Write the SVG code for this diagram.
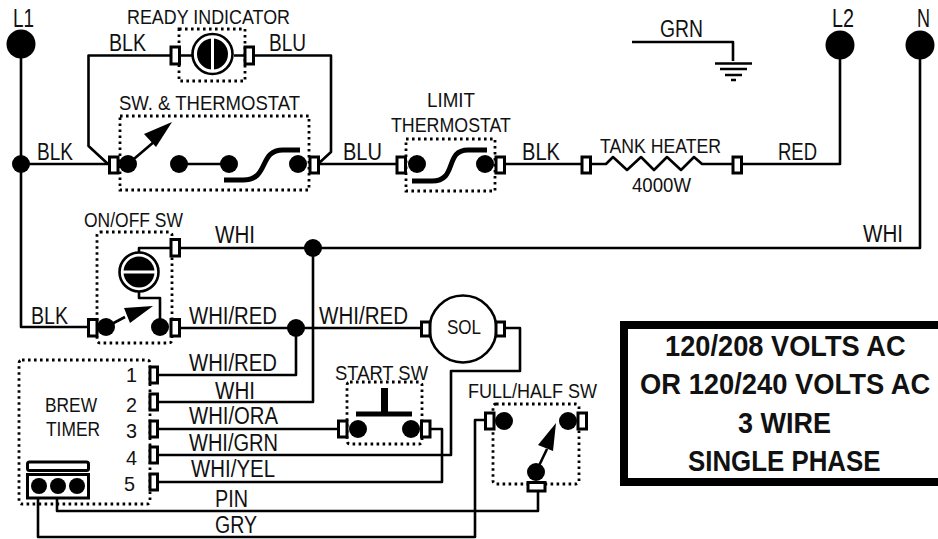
<svg xmlns="http://www.w3.org/2000/svg" width="938" height="539" viewBox="0 0 938 539">
<style>
text{font-family:"Liberation Sans",Arial,sans-serif;font-size:23px;fill:#111}
.s{font-size:21px}
.l{font-size:25px}
.b{font-weight:bold;font-size:30px;fill:#111}
.w{fill:none;stroke:#000;stroke-width:2.600;stroke-linejoin:round}
.t{fill:#fff;stroke:#000;stroke-width:3}
.d{fill:none;stroke:#000;stroke-width:2.800;stroke-dasharray:2.600 3.400}
.k{fill:none;stroke:#000;stroke-width:5}
circle{fill:#000}
</style>
<rect width="938" height="539" fill="#fff"/>
<g id="connectors">
<path class="w" d="M21 44V327H88M21 164H109"/>
<path class="w" d="M171 55.500H88.500V146L108 164M253 55.500H331V152L318 164"/>
<path class="w" d="M318 164H397M504 164H582M590 164H606L613 157L627 170L641 157L654 170L667 157L681 170L694 157L702 164H733M742 164H840V45"/>
<path class="w" d="M920 45V248H139V254"/>
<path class="w" d="M632 42H733V61"/>
<path class="w" d="M139 292V298H160V327M179 328H421M313 248V402H158M296 328V375H158"/>
<path class="w" d="M505 328H520V371H451V455H158M158 429H338M430 429H442V482H158"/>
<path class="w" d="M57 486V511H538V491M38 486V537H475V420H485"/>
<path class="w" d="M179 55.500H192M234 55.500H245"/>
</g>
<g id="l1"><circle cx="21" cy="44" r="14.500"/><circle cx="21" cy="164" r="9"/><text class="l" x="13" y="27" textLength="21" lengthAdjust="spacingAndGlyphs">L1</text></g>
<g id="l2"><circle cx="840" cy="45" r="14.500"/><text class="l" x="832" y="27" textLength="22" lengthAdjust="spacingAndGlyphs">L2</text></g>
<g id="n"><circle cx="920" cy="45" r="14.500"/><text class="l" x="917" y="27" textLength="13" lengthAdjust="spacingAndGlyphs">N</text></g>
<g id="ground">
<path d="M715 63.500H752M720 69H747M725 75H742M731 80H736" stroke="#000" stroke-width="2.600" fill="none"/>
<text x="660" y="37" textLength="43" lengthAdjust="spacingAndGlyphs">GRN</text>
</g>
<g id="ready-indicator">
<rect class="d" x="179" y="29" width="66" height="52"/>
<rect class="t" x="171" y="47" width="8.500" height="17"/><rect class="t" x="245" y="47" width="8.500" height="17"/>
<circle cx="212.500" cy="54" r="20" style="fill:#fff;stroke:#000;stroke-width:2.600"/><circle cx="212.500" cy="54" r="15.500"/>
<rect x="211" y="37" width="3" height="34" fill="#fff"/>
<text class="s" x="127" y="24" textLength="163" lengthAdjust="spacingAndGlyphs">READY INDICATOR</text>
<text x="109" y="51" textLength="37" lengthAdjust="spacingAndGlyphs">BLK</text>
<text x="269" y="51" textLength="37" lengthAdjust="spacingAndGlyphs">BLU</text>
</g>
<g id="sw-thermostat">
<rect class="d" x="120" y="116" width="189" height="74"/>
<rect class="t" x="109.500" y="157" width="8.500" height="16"/><rect class="t" x="310" y="157" width="8.500" height="16"/>
<circle cx="128" cy="164" r="9"/><circle cx="179" cy="164" r="9"/><circle cx="229" cy="164" r="9"/><circle cx="298" cy="164" r="9"/>
<path class="w" d="M128 164L155 141M179 164H229"/>
<path d="M172 122L144 134L156 147Z" fill="#000"/>
<path class="k" d="M224 180H243C270 180 258 150 283 150H300"/>
<text class="s" x="119" y="110" textLength="181" lengthAdjust="spacingAndGlyphs">SW. &amp; THERMOSTAT</text>
<text x="37" y="160" textLength="36" lengthAdjust="spacingAndGlyphs">BLK</text>
<text x="343" y="160" textLength="39" lengthAdjust="spacingAndGlyphs">BLU</text>
</g>
<g id="limit-thermostat">
<rect class="d" x="406" y="139" width="89" height="52"/>
<rect class="t" x="397" y="157" width="8.500" height="16"/><rect class="t" x="496" y="157" width="8.500" height="16"/>
<circle cx="417" cy="164" r="9"/><circle cx="485" cy="164" r="9"/>
<path class="k" d="M412 181H432C458 181 444 150 468 150H487"/>
<text class="s" x="427" y="107" textLength="48" lengthAdjust="spacingAndGlyphs">LIMIT</text>
<text class="s" x="391" y="132" textLength="120" lengthAdjust="spacingAndGlyphs">THERMOSTAT</text>
<text x="522" y="160" textLength="38" lengthAdjust="spacingAndGlyphs">BLK</text>
</g>
<g id="tank-heater">
<rect class="t" x="582" y="157" width="8.500" height="16"/><rect class="t" x="733" y="157" width="8.500" height="16"/>
<text class="s" x="600" y="153" textLength="121" lengthAdjust="spacingAndGlyphs">TANK HEATER</text>
<text class="s" x="632" y="192" textLength="59" lengthAdjust="spacingAndGlyphs">4000W</text>
<text x="778" y="160" textLength="39" lengthAdjust="spacingAndGlyphs">RED</text>
</g>
<g id="on-off-sw">
<rect class="d" x="97" y="232" width="75" height="111" rx="3"/>
<rect class="t" x="171" y="239.500" width="8.500" height="16.500"/><rect class="t" x="88.500" y="319.500" width="8.500" height="16.500"/><rect class="t" x="171" y="319.500" width="8.500" height="16.500"/>
<circle cx="139" cy="272" r="19.500" style="fill:#fff;stroke:#000;stroke-width:2.600"/><circle cx="139" cy="272" r="15.500"/>
<rect x="122" y="270.500" width="34" height="3" fill="#fff"/>
<circle cx="106" cy="327" r="9"/><circle cx="160" cy="327" r="9"/>
<path class="w" d="M106 327L125 317"/><path d="M153 306L124 308L130 323Z" fill="#000"/>
<text class="s" x="84" y="227" textLength="99" lengthAdjust="spacingAndGlyphs">ON/OFF SW</text>
<text x="215" y="243" textLength="40" lengthAdjust="spacingAndGlyphs">WHI</text>
<text x="863" y="242" textLength="40" lengthAdjust="spacingAndGlyphs">WHI</text>
<text x="31" y="324" textLength="37" lengthAdjust="spacingAndGlyphs">BLK</text>
<text x="189" y="324" textLength="88" lengthAdjust="spacingAndGlyphs">WHI/RED</text>
<circle cx="313" cy="248" r="9"/><circle cx="296" cy="328" r="9"/>
</g>
<g id="sol">
<circle cx="463" cy="329" r="33.500" style="fill:#fff;stroke:#000;stroke-width:2.600"/>
<rect class="t" x="421.500" y="322" width="8.500" height="14"/><rect class="t" x="496" y="322" width="8.500" height="14"/>
<text class="s" x="447" y="334" textLength="34" lengthAdjust="spacingAndGlyphs">SOL</text>
<text x="319" y="324" textLength="89" lengthAdjust="spacingAndGlyphs">WHI/RED</text>
</g>
<g id="start-sw">
<rect class="d" x="347" y="382" width="75" height="62" rx="3"/>
<rect class="t" x="338.500" y="421" width="8.500" height="16"/><rect class="t" x="421.500" y="421" width="8.500" height="16"/>
<circle cx="358" cy="429" r="9"/><circle cx="411" cy="429" r="9"/>
<path d="M356 411.500H412V416.500H356ZM381 388H388V412H381Z" fill="#000"/>
<text class="s" x="335" y="380" textLength="93" lengthAdjust="spacingAndGlyphs">START SW</text>
</g>
<g id="full-half-sw">
<rect class="d" x="493" y="404" width="86" height="80" rx="3"/>
<rect class="t" x="485.500" y="413" width="8.500" height="16"/><rect class="t" x="578" y="413" width="8.500" height="16"/>
<rect class="t" x="528" y="482.500" width="17" height="8.500"/>
<circle cx="504" cy="421" r="9"/><circle cx="568" cy="421" r="9"/><circle cx="536" cy="472" r="9"/>
<path class="w" d="M536 472L547 449"/><path d="M556 423L538 445L553 451Z" fill="#000"/>
<text class="s" x="468" y="398" textLength="129" lengthAdjust="spacingAndGlyphs">FULL/HALF SW</text>
</g>
<g id="brew-timer">
<rect class="d" x="19" y="360" width="131" height="144" rx="3"/>
<rect class="t" x="150" y="367" width="7.500" height="16"/><rect class="t" x="150" y="394" width="7.500" height="16"/><rect class="t" x="150" y="421" width="7.500" height="16"/><rect class="t" x="150" y="447" width="7.500" height="16"/><rect class="t" x="150" y="474" width="7.500" height="16"/>
<rect x="27.500" y="462" width="61" height="8.500" rx="2" fill="#fff" stroke="#000" stroke-width="3"/>
<rect x="27.500" y="474.500" width="61" height="23.500" fill="#fff" stroke="#000" stroke-width="3"/>
<circle cx="39" cy="486" r="8"/><circle cx="58" cy="486" r="8"/><circle cx="77" cy="486" r="8"/>
<text class="s" x="126" y="382" textLength="11" lengthAdjust="spacingAndGlyphs">1</text>
<text class="s" x="126" y="412" textLength="11" lengthAdjust="spacingAndGlyphs">2</text>
<text class="s" x="126" y="438" textLength="11" lengthAdjust="spacingAndGlyphs">3</text>
<text class="s" x="126" y="465" textLength="11" lengthAdjust="spacingAndGlyphs">4</text>
<text class="s" x="124" y="491" textLength="11" lengthAdjust="spacingAndGlyphs">5</text>
<text class="s" x="45" y="412" textLength="52" lengthAdjust="spacingAndGlyphs">BREW</text>
<text class="s" x="46" y="436" textLength="54" lengthAdjust="spacingAndGlyphs">TIMER</text>
<text x="189" y="371" textLength="88" lengthAdjust="spacingAndGlyphs">WHI/RED</text>
<text x="215" y="399" textLength="40" lengthAdjust="spacingAndGlyphs">WHI</text>
<text x="189" y="424" textLength="89" lengthAdjust="spacingAndGlyphs">WHI/ORA</text>
<text x="189" y="451" textLength="89" lengthAdjust="spacingAndGlyphs">WHI/GRN</text>
<text x="191" y="477" textLength="84" lengthAdjust="spacingAndGlyphs">WHI/YEL</text>
<text x="215" y="507" textLength="33" lengthAdjust="spacingAndGlyphs">PIN</text>
<text x="215" y="533" textLength="42" lengthAdjust="spacingAndGlyphs">GRY</text>
</g>
<g id="voltage-box">
<rect x="624" y="325" width="324" height="157" fill="#fff" stroke="#000" stroke-width="8"/>
<text class="b" transform="translate(665 356) scale(.908 1)">120/208 VOLTS AC</text>
<text class="b" transform="translate(640 394) scale(.912 1)">OR 120/240 VOLTS AC</text>
<text class="b" transform="translate(738 433) scale(.9 1)">3 WIRE</text>
<text class="b" transform="translate(688 471) scale(.862 1)">SINGLE PHASE</text>
</g>
</svg>
